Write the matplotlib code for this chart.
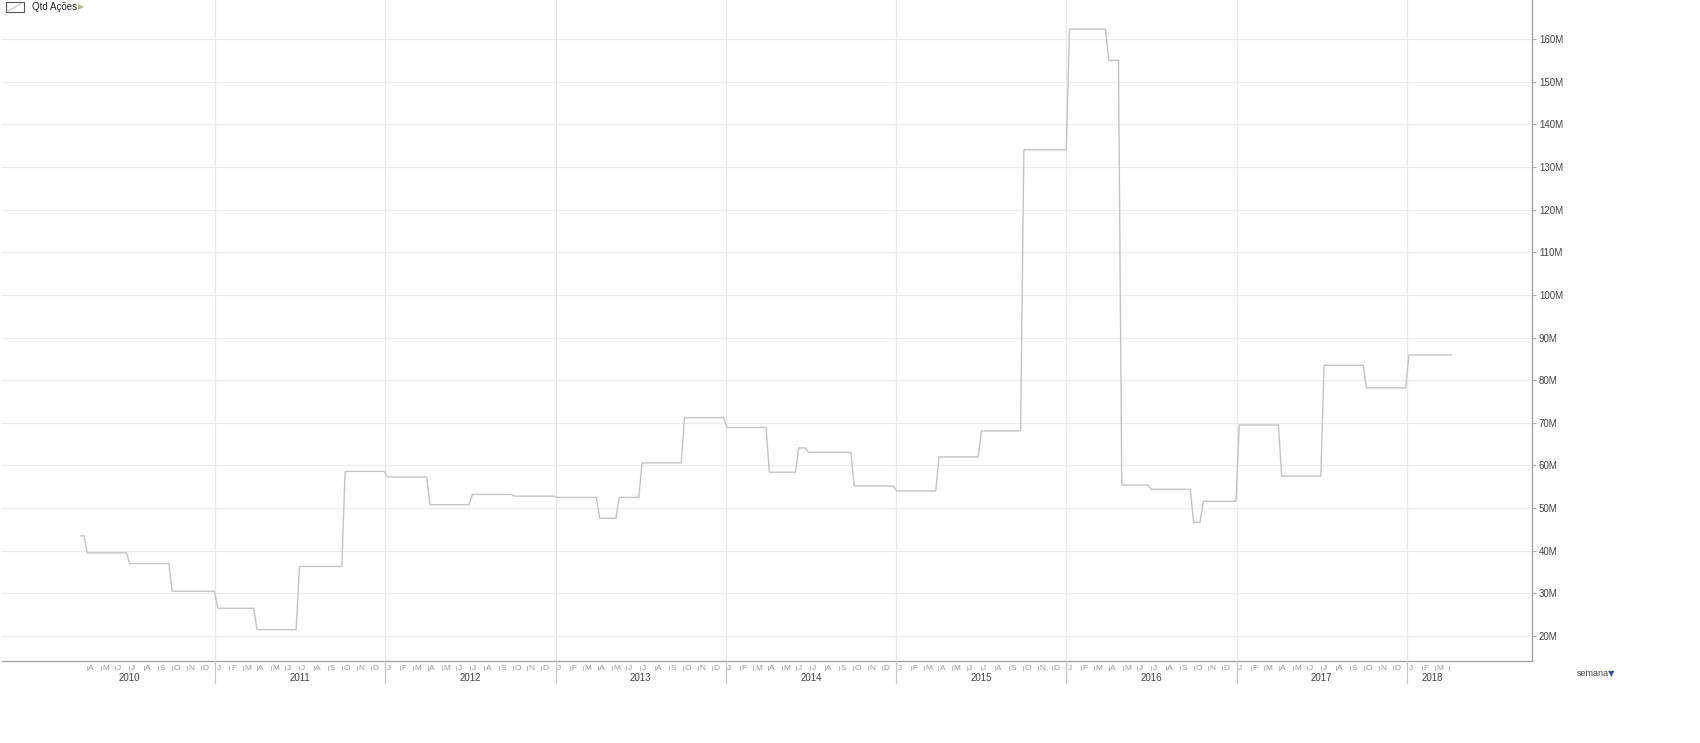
import matplotlib
matplotlib.use('Agg')
import matplotlib.pyplot as plt
import matplotlib.dates as mdates
from matplotlib.transforms import blended_transform_factory
from matplotlib.patches import Rectangle
from matplotlib.lines import Line2D
import datetime as dt

# quarterly-ish holdings (millions), each level starts on the given week
starts = ['2010-03-19', '2010-04-02', '2010-07-02', '2010-10-01', '2011-01-07',
          '2011-04-01', '2011-07-01', '2011-10-07', '2012-01-06', '2012-04-06',
          '2012-07-06', '2012-10-05', '2013-01-04', '2013-04-05', '2013-05-17',
          '2013-07-05', '2013-10-04', '2014-01-03', '2014-04-04', '2014-06-06',
          '2014-06-27', '2014-10-03', '2015-01-02', '2015-04-03', '2015-07-03',
          '2015-10-02', '2016-01-08', '2016-04-01', '2016-04-29', '2016-07-01',
          '2016-09-30', '2016-10-21', '2017-01-06', '2017-04-07', '2017-07-07',
          '2017-10-06', '2018-01-05']
levels = [43.5, 39.5, 37.0, 30.5, 26.5,
          21.5, 36.3, 58.6, 57.3, 50.8,
          53.2, 52.8, 52.5, 47.6, 52.5,
          60.6, 71.2, 68.9, 58.4, 64.1,
          63.1, 55.2, 54.0, 62.0, 68.1,
          134.0, 162.3, 155.0, 55.4, 54.4,
          46.7, 51.6, 69.5, 57.5, 83.5,
          78.2, 85.9]
last_week = '2018-04-06'

yticks = [20, 30, 40, 50, 60, 70, 80, 90, 100, 110, 120, 130, 140, 150, 160]
month_letters = ['J', 'F', 'M', 'A', 'M', 'J', 'J', 'A', 'S', 'O', 'N', 'D']
years = [2010, 2011, 2012, 2013, 2014, 2015, 2016, 2017, 2018]

FONT = ['Liberation Sans', 'DejaVu Sans']
plt.rcParams['font.family'] = FONT

W, H = 1700, 743
fig = plt.figure(figsize=(W / 100, H / 100), dpi=100)
ax = fig.add_axes([2 / W, 82 / H, 1530 / W, 661 / H])

d = [dt.datetime.strptime(s, '%Y-%m-%d') for s in starts]
end = dt.datetime.strptime(last_week, '%Y-%m-%d')
wk = dt.timedelta(days=7)
xs, ys = [], []
for i, v in enumerate(levels):
    xs.append(d[i])
    ys.append(v)
    nxt = d[i + 1] - wk if i + 1 < len(d) else end
    xs.append(nxt)
    ys.append(v)
ax.plot(xs, ys, color='#c4c4c4', lw=1.0, zorder=3)

ax.set_xlim(dt.datetime(2009, 10, 1), dt.datetime(2018, 9, 26))
ax.set_ylim(14.14, 169.15)

ax.set_yticks(yticks)
ax.set_yticklabels(['%dM' % t for t in yticks])
ax.yaxis.tick_right()
ax.tick_params(axis='y', direction='out', length=3, width=0.8, color='#aaaaaa',
               labelsize=7, labelcolor='#444444', pad=2)
ax.set_xticks([])
ax.grid(False)
for t in yticks:
    ax.axhline(t, color='#ececec', lw=0.9, zorder=1)
for y in years[1:]:
    ax.axvline(dt.datetime(y, 1, 1), color='#e8e8e8', lw=0.9, zorder=1)

for s in ['left', 'top']:
    ax.spines[s].set_visible(False)
ax.spines['right'].set_color('#a0a0a0')
ax.spines['bottom'].set_color('#a0a0a0')
ax.spines['right'].set_linewidth(0.9)
ax.spines['bottom'].set_linewidth(0.9)

# month / year axis below the plot
tr = blended_transform_factory(ax.transData, fig.transFigure)
def fy(px):
    return (H - px) / H

m = dt.datetime(2010, 4, 1)
while m <= dt.datetime(2018, 4, 1):
    xn = mdates.date2num(m)
    if m.month == 1:
        fig.add_artist(Line2D([xn, xn], [fy(661), fy(683)], transform=tr,
                              color='#c8c8c8', lw=0.9))
    else:
        fig.add_artist(Line2D([xn, xn], [fy(666), fy(670)], transform=tr,
                              color='#bbbbbb', lw=0.7))
    if m < dt.datetime(2018, 4, 1):
        fig.text(xn + 3, fy(669), month_letters[m.month - 1], transform=tr,
                 fontsize=6, color='#999999', ha='left', va='center')
    m = dt.datetime(m.year + (m.month // 12), m.month % 12 + 1, 1)

for y in years:
    if y == 2018:
        xc = dt.datetime(2018, 2, 25)
    else:
        xc = dt.datetime(y, 7, 2)
    fig.text(mdates.date2num(xc), fy(678), str(y), transform=tr,
             fontsize=7, color='#444444', ha='center', va='center')

# legend top-left
fig.add_artist(Rectangle((6 / W, fy(12)), 18 / W, 10 / H, transform=fig.transFigure,
                         facecolor='white', edgecolor='#555555', lw=0.8))
fig.add_artist(Line2D([8 / W, 22 / W], [fy(11), fy(3)], transform=fig.transFigure,
                      color='#bbbbbb', lw=0.7))
fig.text(32 / W, fy(7), 'Qtd Ações', fontsize=7, color='#222222', va='center')
fig.text(78 / W, fy(7), '▶', fontsize=5.5, color='#b8b48c', va='center',
         family=['DejaVu Sans'])

fig.text(1577 / W, fy(673), 'semana', fontsize=6.5, color='#444444', va='center')
fig.text(1608 / W, fy(674), '▼', fontsize=6, color='#2f55a8', va='center',
         family=['DejaVu Sans'])

plt.savefig('out.png', dpi=100)
